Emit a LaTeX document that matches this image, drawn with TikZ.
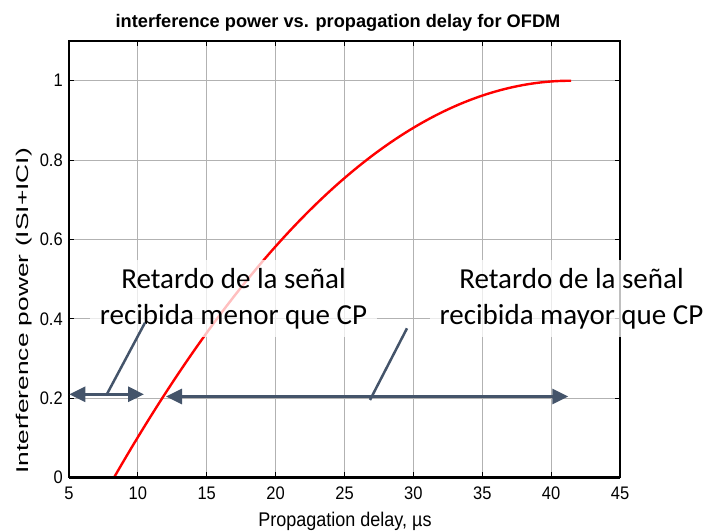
\documentclass[tikz,border=0pt]{standalone}
\usepackage{fontspec}
\setmainfont{Liberation Sans}
\newfontfamily\calib{Carlito}
\usetikzlibrary{arrows.meta}
\definecolor{slate}{HTML}{44546A}
\begin{document}
\begin{tikzpicture}[x=1pt,y=1pt,
  gridline/.style={gray!60,line width=0.9pt},
  framebox/.style={black,line width=1.4pt},
  tickmark/.style={black,line width=0.9pt},
  ticklab/.style={font=\fontsize{16.5}{19}\selectfont,inner sep=0pt,yscale=1.1,transform shape},
  note/.style={font=\calib\fontsize{29}{36}\selectfont,align=center,fill=white,
    fill opacity=0.75,text opacity=1,inner sep=0pt},
  callarrow/.style={slate,line width=3pt,
    {Triangle[length=16pt,width=15pt]}-{Triangle[length=16pt,width=15pt]}},
  pointer/.style={slate,line width=2.5pt}]
\useasboundingbox (0,0) rectangle (707,532);
\begin{scope}[shift={(0.125pt,54.5pt)},x=13.775pt,y=396.75pt]
  \foreach \i in {10,15,...,40} \draw[gridline] (\i,0) -- (\i,1.1);
  \foreach \j in {0.2,0.4,0.6,0.8,1.0} \draw[gridline] (5,\j) -- (45,\j);
  \draw[red,line width=2.4pt] plot[domain=8.27:41.45,samples=120,smooth]
    (\x,{1-(1-(\x-8.27)/33.15)*(1-(\x-8.27)/33.15)});
  \foreach \i in {5,10,...,45} {
    \draw[tickmark] (\i,0) -- ++(0,0.0126);
    \draw[tickmark] (\i,1.1) -- ++(0,-0.0126);
    \node[ticklab,anchor=north] (xt\i) at (\i,-0.024) {\i};
  }
  \foreach \j/\t in {0/0,0.2/0.2,0.4/0.4,0.6/0.6,0.8/0.8,1.0/1} {
    \draw[tickmark] (5,\j) -- ++(0.363,0);
    \draw[tickmark] (45,\j) -- ++(-0.363,0);
    \node[ticklab,anchor=east] (yt\t) at (4.56,\j) {\t};
  }
  \draw[framebox] (5,0) rectangle (45,1.1);
  \draw[black,line width=2.2pt] (5,0) -- (45,0);
\end{scope}
\node[font=\bfseries\fontsize{18.2}{21}\selectfont,anchor=base,inner sep=0pt] (title) at (338,504.3)
  {interference power vs. propagation delay for OFDM};
\node[font=\fontsize{18}{21}\selectfont,anchor=base,inner sep=0pt,yscale=1.1,transform shape] (xlab) at (345,5)
  {Propagation delay, µs};
\node[font=\fontsize{17}{20}\selectfont,inner sep=0pt,rotate=90,xscale=1.55,transform shape] (ylab) at (24,221)
  {Interference power (ISI+ICI)};
\node[note,minimum width=287pt,minimum height=77pt] (lnote) at (233.5,233)
  {Retardo de la señal\\recibida menor que CP};
\node[note,minimum width=283pt,minimum height=77pt] (rnote) at (571.5,233)
  {Retardo de la señal\\recibida mayor que CP};
\coordinate (la1) at (69.3,137.7);
\coordinate (la2) at (144,137.7);
\coordinate (ra1) at (166,135.5);
\coordinate (ra2) at (568.3,135.5);
\coordinate (lp1) at (107,138);
\coordinate (lp2) at (145,209.3);
\coordinate (rp1) at (370,132);
\coordinate (rp2) at (407,203.7);
\draw[callarrow] (la1) -- (la2);
\draw[callarrow] (ra1) -- (ra2);
\draw[pointer] (lp1) -- (lp2);
\draw[pointer] (rp1) -- (rp2);
\end{tikzpicture}
\end{document}
